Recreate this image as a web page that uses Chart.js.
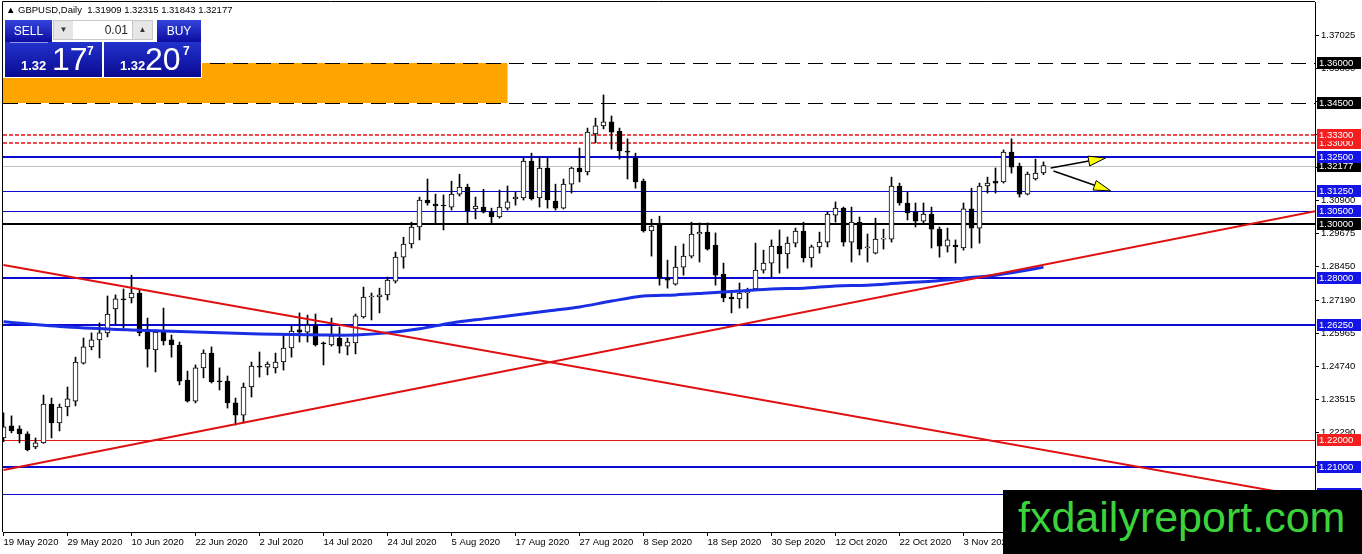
<!DOCTYPE html>
<html>
<head>
<meta charset="utf-8">
<script src="https://cdn.jsdelivr.net/npm/chart.js@4.4.1/dist/chart.umd.min.js"></script>
<style>
html, body { margin: 0; padding: 0; background: #fff; overflow: hidden; }
#wrap { position: relative; width: 1362px; height: 554px; font-family: "Liberation Sans", Arial, sans-serif; }
#chart { position: absolute; left: 0; top: 0; }
#title { position: absolute; left: 6px; top: 5px; font-size: 9.5px; color: #000; white-space: pre; line-height: 1; }
#panel { position: absolute; left: 3px; top: 18px; width: 199px; height: 60px; background: #fff; }
.blue { position: absolute; color: #fff; background: linear-gradient(#3444dc, #0c0ca0); }
.btxt { position: absolute; left: 0; right: 0; top: 5px; text-align: center; font-size: 12px; line-height: 1; }
.spin { position: absolute; top: 2px; height: 20px; background: #e6e6e6; border: 1px solid #c8c8c8; box-sizing: border-box; font-size: 8px; text-align: center; line-height: 18px; color: #333; }
#lot { position: absolute; top: 2px; width: 59px; height: 20px; background: #fff; border-top: 1px solid #c8c8c8; border-bottom: 1px solid #c8c8c8; box-sizing: border-box; font-size: 12px; text-align: right; padding-right: 4px; line-height: 18px; color: #222; }
.pbox { position: absolute; height: 35px; color: #fff; background: linear-gradient(#2232cc, #0a0a92); }
.pbox span { position: absolute; line-height: 1; white-space: pre; }
.small { font-size: 13px; font-weight: bold; top: 17px; }
.big { font-size: 32px; top: 1px; }
.sup { font-size: 12px; font-weight: bold; top: 3px; }
.divider { position: absolute; left: 5px; top: 0; width: 38px; height: 1px; background: #8f98e8; }
#mark { position: absolute; left: 1003px; top: 490px; width: 359px; height: 64px; background: #000; }
#mark span { position: absolute; left: 15px; top: 6px; font-size: 43px; line-height: 1; color: #3cd23c; white-space: pre; }
</style>
</head>
<body>
<div id="wrap">
  <canvas id="chart" width="1362" height="554"></canvas>
  <div id="title">▲ GBPUSD,Daily  1.31909 1.32315 1.31843 1.32177</div>
  <div id="panel">
    <div class="blue" style="left:2px;top:2px;width:47px;height:22px;"><div class="btxt">SELL</div></div>
    <div class="spin" style="left:50px;width:21px;">▼</div>
    <div id="lot" style="left:70px;">0.01</div>
    <div class="spin" style="left:129px;width:21px;">▲</div>
    <div class="blue" style="left:154px;top:2px;width:44px;height:22px;"><div class="btxt">BUY</div></div>
    <div class="pbox" style="left:2px;top:24px;width:97px;">
      <div class="divider"></div>
      <span class="small" style="left:16px;">1.32</span>
      <span class="big" style="left:47px;">17</span>
      <span class="sup" style="left:82px;">7</span>
    </div>
    <div class="pbox" style="left:101px;top:24px;width:97px;">
      <span class="small" style="left:16px;">1.32</span>
      <span class="big" style="left:41px;">20</span>
      <span class="sup" style="left:79px;">7</span>
    </div>
  </div>
  <div id="mark"><span>fxdailyreport.com</span></div>
</div>
<script>
// GBPUSD daily bars, 19 May 2020 onwards (weekdays), one entry per bar
const opens = [
  1.2207, 1.2252, 1.2241, 1.2222, 1.2174, 1.2189, 1.2333, 1.2263, 1.2322, 1.2344,
  1.2485, 1.2545, 1.2571, 1.2597, 1.2686, 1.2723, 1.2727, 1.2745, 1.2600, 1.2534,
  1.2604, 1.2571, 1.2552, 1.2422, 1.2344, 1.2467, 1.2522, 1.2418, 1.2418, 1.2337,
  1.2292, 1.2396, 1.2474, 1.2470, 1.2467, 1.2489, 1.2541, 1.2608, 1.2600, 1.2623,
  1.2560, 1.2552, 1.2578, 1.2548, 1.2560, 1.2656, 1.2730, 1.2730, 1.2738, 1.2789,
  1.2878, 1.2927, 1.2990, 1.3090, 1.3075, 1.3071, 1.3064, 1.3112, 1.3138, 1.3057,
  1.3064, 1.3045, 1.3027, 1.3060, 1.3094, 1.3098, 1.3235, 1.3098, 1.3209, 1.3086,
  1.3060, 1.3149, 1.3209, 1.3194, 1.3335, 1.3365, 1.3380, 1.3346, 1.3272, 1.3246,
  1.3160, 1.2975, 1.2997, 1.2800, 1.2778, 1.2841, 1.2882, 1.2964, 1.2971, 1.2923,
  1.2815, 1.2730, 1.2723, 1.2745, 1.2760, 1.2830, 1.2856, 1.2919, 1.2890, 1.2930,
  1.2975, 1.2875, 1.2916, 1.2934, 1.3034, 1.3060, 1.2934, 1.3008, 1.2912, 1.2893,
  1.2945, 1.2945, 1.3142, 1.3079, 1.3045, 1.3012, 1.3038, 1.2982, 1.2919, 1.2923,
  1.2912, 1.3057, 1.2986, 1.3142, 1.3160, 1.3157, 1.3268, 1.3216, 1.3112, 1.3168,
  1.31909
];
const highs = [
  1.2300, 1.2289, 1.2252, 1.2230, 1.2207, 1.2366, 1.2355, 1.2333, 1.2396, 1.2507,
  1.2578, 1.2597, 1.2634, 1.2734, 1.2738, 1.2760, 1.2811, 1.2756, 1.2652, 1.2608,
  1.2689, 1.2589, 1.2563, 1.2455, 1.2478, 1.2534, 1.2545, 1.2467, 1.2437, 1.2355,
  1.2411, 1.2489, 1.2526, 1.2489, 1.2522, 1.2589, 1.2623, 1.2671, 1.2663, 1.2667,
  1.2563, 1.2652, 1.2619, 1.2578, 1.2667, 1.2767, 1.2745, 1.2763, 1.2804, 1.2897,
  1.2952, 1.3008, 1.3101, 1.3168, 1.3112, 1.3109, 1.3160, 1.3186, 1.3149, 1.3101,
  1.3130, 1.3060, 1.3127, 1.3142, 1.3120, 1.3246, 1.3264, 1.3250, 1.3246, 1.3149,
  1.3168, 1.3212, 1.3283, 1.3357, 1.3394, 1.3480, 1.3402, 1.3357, 1.3317, 1.3264,
  1.3168, 1.3019, 1.3030, 1.2867, 1.2919, 1.2927, 1.3008, 1.3005, 1.3005, 1.2968,
  1.2856, 1.2745, 1.2782, 1.2763, 1.2930, 1.2904, 1.2942, 1.2979, 1.2953, 1.2986,
  1.3008, 1.2923, 1.2971, 1.3045, 1.3083, 1.3064, 1.3064, 1.3027, 1.2964, 1.3023,
  1.2982, 1.3175, 1.3153, 1.3120, 1.3079, 1.3079, 1.3064, 1.2990, 1.2986, 1.2942,
  1.3079, 1.3134, 1.3153, 1.3175, 1.3209, 1.3276, 1.3317, 1.3227, 1.3194, 1.3242,
  1.32315
];
const lows = [
  1.2193, 1.2226, 1.2189, 1.2159, 1.2167, 1.2187, 1.2207, 1.2233, 1.2289, 1.2326,
  1.2481, 1.2534, 1.2504, 1.2582, 1.2630, 1.2615, 1.2708, 1.2586, 1.2470, 1.2452,
  1.2552, 1.2507, 1.2404, 1.2340, 1.2337, 1.2430, 1.2411, 1.2385, 1.2318, 1.2255,
  1.2263, 1.2359, 1.2433, 1.2441, 1.2448, 1.2459, 1.2507, 1.2563, 1.2563, 1.2548,
  1.2478, 1.2548, 1.2522, 1.2515, 1.2519, 1.2652, 1.2645, 1.2671, 1.2719, 1.2782,
  1.2837, 1.2912, 1.2942, 1.3071, 1.3005, 1.2979, 1.3053, 1.3105, 1.3005, 1.3020,
  1.3042, 1.3005, 1.3023, 1.3053, 1.3071, 1.3090, 1.3090, 1.3064, 1.3060, 1.3053,
  1.3057, 1.3116, 1.3157, 1.3183, 1.3302, 1.3354, 1.3279, 1.3242, 1.3168, 1.3134,
  1.2971, 1.2882, 1.2774, 1.2763, 1.2774, 1.2811, 1.2875, 1.2860, 1.2904, 1.2774,
  1.2712, 1.2671, 1.2689, 1.2689, 1.2756, 1.2819, 1.2804, 1.2819, 1.2837, 1.2916,
  1.2860, 1.2841, 1.2893, 1.2916, 1.3008, 1.2919, 1.2860, 1.2886, 1.2860, 1.2890,
  1.2908, 1.2934, 1.3071, 1.3016, 1.2990, 1.3005, 1.2912, 1.2878, 1.2897, 1.2856,
  1.2904, 1.2912, 1.2930, 1.3116, 1.3116, 1.3153, 1.3190, 1.3101, 1.3109, 1.3164,
  1.31843
];
const closes = [
  1.2248, 1.2233, 1.2222, 1.2163, 1.2189, 1.2333, 1.2263, 1.2322, 1.2352, 1.2489,
  1.2545, 1.2571, 1.2597, 1.2667, 1.2723, 1.2719, 1.2745, 1.2597, 1.2537, 1.2600,
  1.2567, 1.2552, 1.2418, 1.2344, 1.2467, 1.2522, 1.2415, 1.2415, 1.2337, 1.2292,
  1.2396, 1.2474, 1.2470, 1.2481, 1.2489, 1.2541, 1.2604, 1.2600, 1.2626, 1.2552,
  1.2556, 1.2586, 1.2548, 1.2563, 1.2660, 1.2730, 1.2734, 1.2738, 1.2793, 1.2878,
  1.2927, 1.2990, 1.3090, 1.3079, 1.3068, 1.3068, 1.3112, 1.3138, 1.3049, 1.3068,
  1.3045, 1.3027, 1.3064, 1.3083, 1.3101, 1.3235, 1.3094, 1.3209, 1.3090, 1.3060,
  1.3149, 1.3209, 1.3194, 1.3342, 1.3365, 1.3380, 1.3342, 1.3272, 1.3268, 1.3157,
  1.2975, 1.2993, 1.2800, 1.2793, 1.2841, 1.2882, 1.2964, 1.2971, 1.2908, 1.2811,
  1.2727, 1.2723, 1.2745, 1.2749, 1.2830, 1.2856, 1.2919, 1.2890, 1.2930, 1.2975,
  1.2875, 1.2916, 1.2934, 1.3038, 1.3060, 1.2934, 1.3008, 1.2908, 1.2916, 1.2945,
  1.2949, 1.3142, 1.3079, 1.3042, 1.3012, 1.3038, 1.2982, 1.2919, 1.2942, 1.2916,
  1.3057, 1.2986, 1.3142, 1.3153, 1.3153, 1.3268, 1.3212, 1.3112, 1.3186, 1.3190,
  1.32177
];

// moving average, sampled at bar numbers
const maBars = [0, 8, 16, 24, 32, 40, 44, 48, 52, 56, 60, 64, 68, 72, 76, 80, 84, 88,
  92, 96, 100, 104, 108, 112, 116, 120, 124, 128, 130];
const maValues = [1.2638, 1.2619, 1.2608, 1.2600, 1.2593, 1.2589, 1.2589, 1.2597, 1.2612,
  1.2634, 1.2649, 1.2663, 1.2678, 1.2693, 1.2715, 1.2734, 1.2738, 1.2745, 1.2752,
  1.2760, 1.2763, 1.2771, 1.2774, 1.2782, 1.2789, 1.2800, 1.2811, 1.2830, 1.2841];

// trend lines: [bar, price] ends
const trendDown = [[0, 1.2849], [164, 1.1983]];
const trendUp = [[0, 1.2088], [164, 1.3049]];

// horizontal levels
const levelPrices = [1.36, 1.345, 1.333, 1.33, 1.325, 1.32177, 1.3125, 1.305, 1.30, 1.28, 1.2625, 1.22, 1.21, 1.20];

// supply zone
const zoneBars = [-1, 63];
const zonePrices = [1.36, 1.345];

// arrows: [startBar, startPrice, endBar, endPrice]
const arrows = [[130.9, 1.3209, 137.75, 1.3246], [131.25, 1.3198, 138.4, 1.3124]];

const dateLabels = ['19 May 2020', '29 May 2020', '10 Jun 2020', '22 Jun 2020', '2 Jul 2020',
  '14 Jul 2020', '24 Jul 2020', '5 Aug 2020', '17 Aug 2020', '27 Aug 2020', '8 Sep 2020',
  '18 Sep 2020', '30 Sep 2020', '12 Oct 2020', '22 Oct 2020', '3 Nov 2020'];
const priceTicks = [1.37025, 1.358, 1.34575, 1.3335, 1.32125, 1.309, 1.29675, 1.2845,
  1.2719, 1.25965, 1.2474, 1.23515, 1.2229, 1.21065];

// styles for the levels, same order as levelPrices
const BLUE = '#0a0ad2';
const levelStyles = [
  { color: '#000', width: 1, dash: [15, 8], box: '#000' },
  { color: '#000', width: 1, dash: [15, 8], box: '#000' },
  { color: '#e81010', width: 1.6, dash: [4, 2], box: '#f41e1e', soft: true },
  { color: '#e81010', width: 1.6, dash: [4, 2], box: '#f41e1e', soft: true },
  { color: BLUE, width: 2, dash: [], box: '#1414e6' },
  { color: '#c0c0c0', width: 1, dash: [], box: '#000' },
  { color: BLUE, width: 1, dash: [], box: '#1414e6' },
  { color: BLUE, width: 1, dash: [], box: '#1414e6' },
  { color: '#000', width: 2, dash: [], box: '#000' },
  { color: BLUE, width: 2, dash: [], box: '#1414e6' },
  { color: BLUE, width: 2, dash: [], box: '#1414e6' },
  { color: '#e01818', width: 1, dash: [], box: '#f41e1e' },
  { color: BLUE, width: 2, dash: [], box: '#1414e6' },
  { color: BLUE, width: 1, dash: [], box: '#1414e6' }
];

function crisp(v, w) {
  return w % 2 === 1 ? Math.round(v) + 0.5 : Math.round(v);
}

const mt4Plugin = {
  id: 'mt4',
  beforeDatasetsDraw(chart) {
    const { ctx, chartArea: a, scales: { x, y } } = chart;
    ctx.save();
    ctx.beginPath();
    ctx.rect(a.left, a.top, a.right - a.left, a.bottom - a.top);
    ctx.clip();
    // orange zone
    const zx1 = x.getPixelForValue(zoneBars[0]);
    const zx2 = x.getPixelForValue(zoneBars[1]);
    const zy1 = Math.round(y.getPixelForValue(zonePrices[0]));
    const zy2 = Math.round(y.getPixelForValue(zonePrices[1]));
    ctx.fillStyle = '#ffa500';
    ctx.fillRect(zx1, zy1, zx2 - zx1, zy2 - zy1);
    // levels
    levelPrices.forEach((p, k) => {
      const st = levelStyles[k];
      const raw = y.getPixelForValue(p);
      const py = st.soft ? Math.round(raw) : crisp(raw, st.width);
      ctx.beginPath();
      ctx.setLineDash(st.dash);
      ctx.lineWidth = st.width;
      ctx.strokeStyle = st.color;
      ctx.moveTo(a.left, py);
      ctx.lineTo(a.right, py);
      ctx.stroke();
    });
    ctx.restore();
  },
  afterDatasetsDraw(chart) {
    const { ctx, scales: { x, y } } = chart;
    ctx.save();
    arrows.forEach(ar => {
      const x1 = x.getPixelForValue(ar[0]), y1 = y.getPixelForValue(ar[1]);
      const x2 = x.getPixelForValue(ar[2]), y2 = y.getPixelForValue(ar[3]);
      const ang = Math.atan2(y2 - y1, x2 - x1);
      const len = 17, half = 5;
      const bx = x2 - len * Math.cos(ang), by = y2 - len * Math.sin(ang);
      ctx.beginPath();
      ctx.lineWidth = 1.5;
      ctx.strokeStyle = '#000';
      ctx.moveTo(x1, y1);
      ctx.lineTo(bx, by);
      ctx.stroke();
      ctx.beginPath();
      ctx.moveTo(x2, y2);
      ctx.lineTo(bx + half * Math.sin(ang), by - half * Math.cos(ang));
      ctx.lineTo(bx - half * Math.sin(ang), by + half * Math.cos(ang));
      ctx.closePath();
      ctx.fillStyle = '#ffff00';
      ctx.fill();
      ctx.lineWidth = 1;
      ctx.stroke();
    });
    ctx.restore();
  },
  afterDraw(chart) {
    const { ctx, chartArea: a, scales: { y } } = chart;
    ctx.save();
    // frame
    ctx.strokeStyle = '#000';
    ctx.lineWidth = 1;
    ctx.beginPath();
    ctx.moveTo(a.left - 0.5, a.bottom);
    ctx.lineTo(a.left - 0.5, a.top - 0.5);
    ctx.lineTo(a.right, a.top - 0.5);
    ctx.stroke();
    // price boxes
    ctx.font = '9.5px "Liberation Sans", Arial, sans-serif';
    ctx.textBaseline = 'middle';
    ctx.textAlign = 'left';
    for (let k = levelPrices.length - 1; k >= 0; k--) {
      const py = Math.round(y.getPixelForValue(levelPrices[k]));
      ctx.fillStyle = levelStyles[k].box;
      ctx.fillRect(a.right + 2, py - 6, 44, 12);
      ctx.fillStyle = '#fff';
      ctx.fillText(levelPrices[k].toFixed(5), a.right + 4, py + 0.5);
    }
    ctx.restore();
  }
};

const bodies = opens.map((o, i) => ({ x: i, y: [o, closes[i]] }));
const wicks = lows.map((l, i) => ({ x: i, y: [l, highs[i]] }));
const bodyColors = opens.map((o, i) => (closes[i] >= o ? '#ffffff' : '#000000'));

new Chart(document.getElementById('chart'), {
  type: 'bar',
  data: {
    datasets: [
      {
        type: 'line', order: 0,
        data: trendDown.map(p => ({ x: p[0], y: p[1] })),
        borderColor: '#e01010', borderWidth: 2, pointRadius: 0
      },
      {
        type: 'line', order: 0,
        data: trendUp.map(p => ({ x: p[0], y: p[1] })),
        borderColor: '#e01010', borderWidth: 2, pointRadius: 0
      },
      {
        type: 'line', order: 1,
        data: maBars.map((b, k) => ({ x: b, y: maValues[k] })),
        borderColor: '#1a2ee4', borderWidth: 3, pointRadius: 0, tension: 0.3
      },
      {
        order: 2,
        data: bodies,
        backgroundColor: bodyColors,
        borderColor: '#000', borderWidth: 1, borderSkipped: false,
        barThickness: 5, grouped: false, minBarLength: 1
      },
      {
        order: 3,
        data: wicks,
        backgroundColor: '#000', borderWidth: 0,
        barThickness: 1, grouped: false
      }
    ]
  },
  options: {
    responsive: false,
    animation: false,
    layout: { padding: { left: 3, top: 2, right: 0, bottom: 0 } },
    plugins: { legend: { display: false }, tooltip: { enabled: false } },
    scales: {
      x: {
        type: 'linear',
        min: -0.0625,
        max: 163.9375,
        offset: false,
        afterBuildTicks(scale) {
          scale.ticks = dateLabels.map((_, k) => ({ value: k * 8 }));
        },
        afterFit(scale) {
          scale.height = 22;
          scale.paddingLeft = 0;
          scale.paddingRight = 0;
        },
        ticks: {
          autoSkip: false, maxRotation: 0, align: 'start', padding: 1,
          color: '#000',
          font: { family: '"Liberation Sans", Arial, sans-serif', size: 9.5 },
          callback: v => dateLabels[Math.round(v / 8)] || ''
        },
        grid: { offset: false, drawOnChartArea: false, tickLength: 4, color: '#000' },
        border: { color: '#000' }
      },
      y: {
        position: 'right',
        min: 1.1858,
        max: 1.3825,
        afterBuildTicks(scale) {
          scale.ticks = priceTicks.map(v => ({ value: v }));
        },
        afterFit(scale) {
          scale.width = 47;
          scale.paddingTop = 0;
          scale.paddingBottom = 0;
        },
        ticks: {
          autoSkip: false, padding: 2, color: '#000',
          font: { family: '"Liberation Sans", Arial, sans-serif', size: 9.5 },
          callback: v => v.toFixed(5)
        },
        grid: { drawOnChartArea: false, tickLength: 4, color: '#000' },
        border: { color: '#000' }
      }
    }
  },
  plugins: [mt4Plugin]
});
</script>
</body>
</html>
